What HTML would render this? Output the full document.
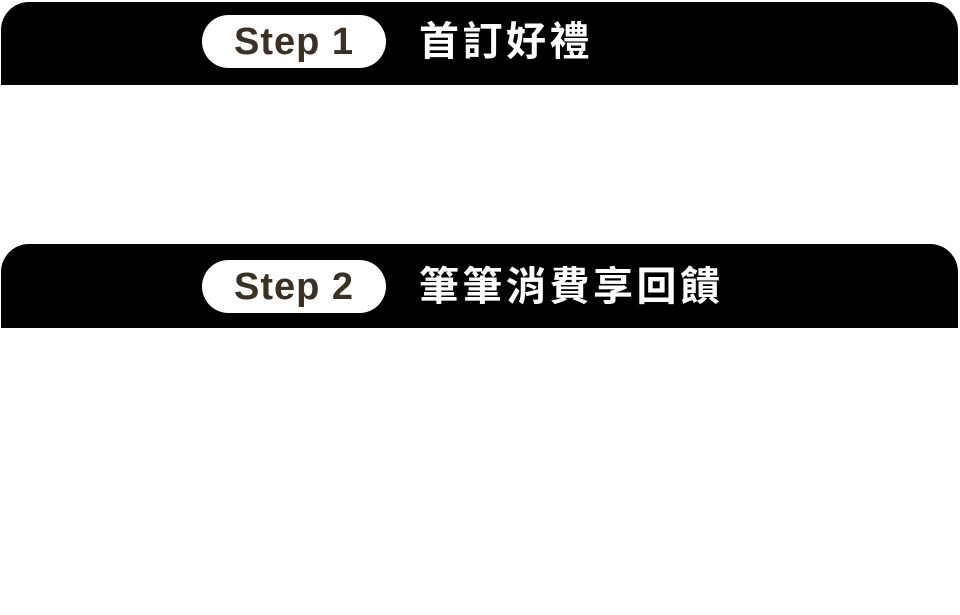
<!DOCTYPE html>
<html><head><meta charset="utf-8"><style>
body{margin:0;width:960px;height:615px;background:#fff;position:relative;overflow:hidden}
.bar{position:absolute;left:1px;width:957px;height:83px;background:#000;border-radius:28px 28px 0 0}
.pill{position:absolute;left:202px;width:184px;height:53px;background:#fff;border-radius:27px;font-family:"Liberation Sans",sans-serif;font-weight:bold;font-size:38px;color:#3a3024;line-height:55px;text-align:center;letter-spacing:1px}
.t{position:absolute;left:419px;font-family:"Liberation Sans","Noto Sans CJK TC",sans-serif;font-weight:bold;font-size:40px;color:#fff;letter-spacing:3.5px;line-height:55px;white-space:nowrap}
</style></head><body>
<div class="bar" style="top:2px"></div>
<div class="pill" style="top:15px">Step 1</div>
<div class="t" style="top:15px">首訂好禮</div>
<div class="bar" style="top:244px;height:84px"></div>
<div class="pill" style="top:260px">Step 2</div>
<div class="t" style="top:260px">筆筆消費享回饋</div>
</body></html>
